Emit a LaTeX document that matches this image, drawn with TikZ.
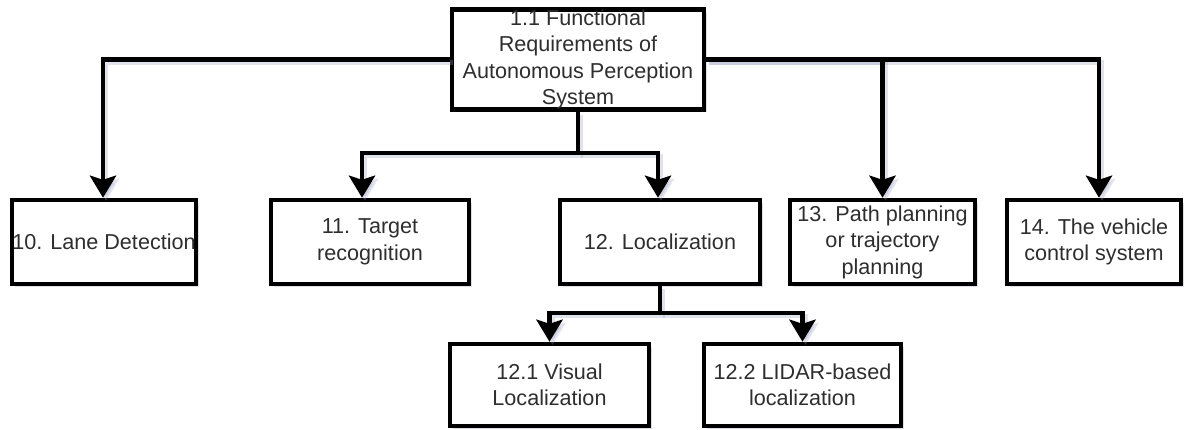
\documentclass[tikz,border=0pt]{standalone}
\usepackage{fontspec}
\setmainfont{Liberation Sans}
\usetikzlibrary{arrows.meta,shadows,calc}
\definecolor{txt}{HTML}{2E2E2E}
\definecolor{shadowc}{HTML}{9AA0C0}
\begin{document}
\begin{tikzpicture}[x=1pt,y=-1pt,
  box/.style={draw=black,line width=4.5pt,fill=white,inner sep=0pt,align=center,
    text=txt,font=\fontsize{21.6}{26.5}\selectfont,
    drop shadow={shadow xshift=3pt,shadow yshift=-3pt,fill=shadowc,opacity=0.35}},
  link/.style={line width=4.5pt,draw=black,
    -{Stealth[length=22pt,width=26pt,inset=4pt]}},
  linkshadow/.style={line width=4.5pt,draw=shadowc,opacity=0.3,
    -{Stealth[length=22pt,width=26pt,inset=4pt]},
    transform canvas={shift={(3pt,-3pt)}}}]
\useasboundingbox (0,0) rectangle (1194,430);

% boxes
\node[box,minimum width=252pt,minimum height=95pt] (top) at (578,59.5)
  {1.1 Functional\\Requirements of\\Autonomous Perception\\System};
\node[box,minimum width=184pt,minimum height=84pt] (lane) at (104,242)
  {10. Lane Detection};
\node[box,minimum width=198pt,minimum height=84pt] (target) at (370,242)
  {11. Target\\recognition};
\node[box,minimum width=200pt,minimum height=84pt] (loc) at (660,242)
  {12. Localization};
\node[box,minimum width=185pt,minimum height=84pt] (path) at (882.5,242)
  {13. Path planning\\or trajectory\\planning};
\node[box,minimum width=174pt,minimum height=84pt] (ctrl) at (1094,242)
  {14. The vehicle\\control system};
\node[box,minimum width=199pt,minimum height=82pt] (vis) at (549.5,385)
  {12.1 Visual\\Localization};
\node[box,minimum width=197pt,minimum height=82pt] (lidar) at (802.5,385)
  {12.2 LIDAR-based\\localization};

% junction points
\coordinate (j1) at (578,153);
\coordinate (j2) at (660,313);

% connector shadows
\draw[linkshadow] (top.west) -| (103,0 |- lane.north);
\draw[linkshadow] (top.east) -| (path.north);
\draw[linkshadow] (top.east) -| (1099,0 |- ctrl.north);
\draw[linkshadow] (top.south) -- (j1) -| (362,0 |- target.north);
\draw[linkshadow] (j1) -| (658,0 |- loc.north);
\draw[linkshadow] (loc.south) -- (j2) -| (vis.north);
\draw[linkshadow] (j2) -| (lidar.north);

% connectors
\draw[link] (top.west) -| (103,0 |- lane.north);
\draw[link] (top.east) -| (path.north);
\draw[link] (top.east) -| (1099,0 |- ctrl.north);
\draw[link] (top.south) -- (j1) -| (362,0 |- target.north);
\draw[link] (j1) -| (658,0 |- loc.north);
\draw[link] (loc.south) -- (j2) -| (vis.north);
\draw[link] (j2) -| (lidar.north);
\end{tikzpicture}
\end{document}
